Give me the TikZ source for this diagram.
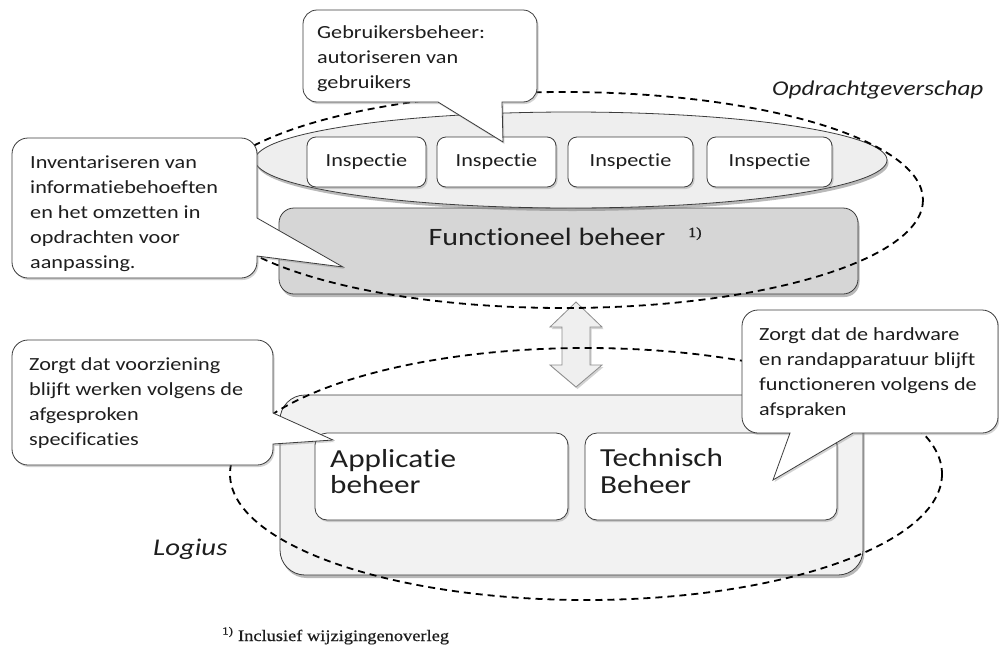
\documentclass[tikz,border=0pt]{standalone}
\usepackage{fontspec}
\setmainfont{Carlito}[FakeStretch=1.2, Ligatures={NoCommon}]
\newfontfamily\serifft{Liberation Serif}[FakeStretch=1.15, FakeBold=0.6]
\usetikzlibrary{shadows}
\definecolor{bordr}{HTML}{3C3C3C}
\definecolor{fbgrey}{HTML}{D6D6D6}
\definecolor{lggrey}{HTML}{F2F2F2}
\definecolor{ellgrey}{HTML}{EEEEEE}
\definecolor{arrgrey}{HTML}{EFEFEF}
\definecolor{txt}{HTML}{1E1E1E}
\tikzset{
  shad/.style={drop shadow={shadow xshift=1.5pt, shadow yshift=-2pt, opacity=0.35}},
  bigshad/.style={drop shadow={shadow xshift=1.5pt, shadow yshift=-3pt, opacity=0.55}},
  callout/.style={fill=white, draw=bordr, line width=0.8pt, shad},
  whitebox/.style={draw=bordr, fill=white, line width=0.8pt, inner sep=0pt, shad},
  bigbox/.style={draw=bordr, line width=0.8pt, inner sep=0pt, bigshad},
  ctext/.style={font=\fontsize{18.5}{25}\selectfont, anchor=base west, inner sep=0pt, text=txt},
  btext/.style={font=\fontsize{26}{30}\selectfont, anchor=base west, inner sep=0pt, text=txt},
  itext/.style={font=\fontsize{18.5}{22}\selectfont, text=txt},
  dashell/.style={draw=black, line width=1.8pt, dash pattern=on 7pt off 5pt},
}
\begin{document}
\begin{tikzpicture}[x=1pt,y=-1pt]
\useasboundingbox[fill=white] (0,0) rectangle (999,659);

% main boxes
\node[bigbox, fill=lggrey, rounded corners=25pt, minimum width=583pt, minimum height=180pt] (lg) at (571.5,485) {};
\node[bigbox, fill=fbgrey, rounded corners=15pt, minimum width=579pt, minimum height=86pt] (fb) at (568.5,251) {};

% inner ellipse with Inspectie boxes
\path[fill=ellgrey, draw=bordr, line width=0.8pt, bigshad] (571,160) ellipse [x radius=316, y radius=48];
\node[whitebox, rounded corners=9pt, minimum width=119pt, minimum height=50pt, itext] (i1) at (366.5,162) {Inspectie};
\node[whitebox, rounded corners=9pt, minimum width=119pt, minimum height=50pt, itext] (i2) at (496.5,162) {Inspectie};
\node[whitebox, rounded corners=9pt, minimum width=125pt, minimum height=50pt, itext] (i3) at (630.5,162) {Inspectie};
\node[whitebox, rounded corners=9pt, minimum width=125pt, minimum height=50pt, itext] (i4) at (769.5,162) {Inspectie};

% functioneel beheer text
\node[font=\fontsize{25}{30}\selectfont, anchor=base, inner sep=0pt, text=txt] (fbt) at (547,245) {Functioneel beheer};
\node[font=\serifft\fontsize{14}{16}\selectfont, anchor=base west, inner sep=0pt, text=txt] (fbn) at (688,237) {1)};

% applicatie / technisch
\node[whitebox, rounded corners=12pt, minimum width=253pt, minimum height=87pt] (ab) at (441.5,476.5) {};
\node[whitebox, rounded corners=12pt, minimum width=252pt, minimum height=87pt] (tb) at (711,476.5) {};
\node[btext] (ab1) at (330,467) {Applicatie};
\node[btext] (ab2) at (330,493) {beheer};
\node[btext] (tb1) at (600,466) {Technisch};
\node[btext] (tb2) at (600,493) {Beheer};

% double arrow between functioneel beheer and logius
\path[fill=arrgrey, draw=black!45, line width=0.8pt, shad]
  (576,302) -- (602,327) -- (590,327) -- (590,365) -- (602,365) -- (576,387)
  -- (550,365) -- (562,365) -- (562,327) -- (550,327) -- cycle;

% dashed ellipses
\draw[dashell] (564,200) ellipse [x radius=359, y radius=108];
\draw[dashell] (586,474) ellipse [x radius=356, y radius=126];

% callouts
\path[callout] (317,10) -- (523,10) .. controls (530.7,10) and (537,16.3) .. (537,24) -- (537,88) .. controls (537,95.7) and (530.7,102) .. (523,102) -- (502,102) -- (503,142) -- (438,102) -- (317,102) .. controls (309.3,102) and (303,95.7) .. (303,88) -- (303,24) .. controls (303,16.3) and (309.3,10) .. (317,10) -- cycle;
\path[callout] (28,138) -- (241,138) .. controls (249.8,138) and (257,145.2) .. (257,154) -- (257,218) -- (343,267) -- (257,256) -- (257,262) .. controls (257,270.8) and (249.8,278) .. (241,278) -- (28,278) .. controls (19.2,278) and (12,270.8) .. (12,262) -- (12,154) .. controls (12,145.2) and (19.2,138) .. (28,138) -- cycle;
\path[callout] (28,340) -- (257,340) .. controls (265.8,340) and (273,347.2) .. (273,356) -- (273,413) -- (333,440) -- (273,444) -- (273,449) .. controls (273,457.8) and (265.8,465) .. (257,465) -- (28,465) .. controls (19.2,465) and (12,457.8) .. (12,449) -- (12,356) .. controls (12,347.2) and (19.2,340) .. (28,340) -- cycle;
\path[callout] (758,310) -- (982,310) .. controls (990.8,310) and (998,317.2) .. (998,326) -- (998,417) .. controls (998,425.8) and (990.8,433) .. (982,433) -- (853,433) -- (773,480) -- (790,433) -- (758,433) .. controls (749.2,433) and (742,425.8) .. (742,417) -- (742,326) .. controls (742,317.2) and (749.2,310) .. (758,310) -- cycle;

% callout texts
\node[ctext] (c1a) at (317,38) {Gebruikersbeheer:};
\node[ctext] (c1b) at (317,63) {autoriseren van};
\node[ctext] (c1c) at (317,88) {gebruikers};

\node[ctext] (c2a) at (30,168) {Inventariseren van};
\node[ctext] (c2b) at (30,193) {informatiebehoeften};
\node[ctext] (c2c) at (30,218) {en het omzetten in};
\node[ctext] (c2d) at (30,243) {opdrachten voor};
\node[ctext] (c2e) at (30,268) {aanpassing.};

\node[ctext] (c3a) at (29,370) {Zorgt dat voorziening};
\node[ctext] (c3b) at (29,395) {blijft werken volgens de};
\node[ctext] (c3c) at (29,420) {afgesproken};
\node[ctext] (c3d) at (29,445) {specificaties};

\node[ctext] (c4a) at (759,340) {Zorgt dat de hardware};
\node[ctext] (c4b) at (759,365) {en randapparatuur blijft};
\node[ctext] (c4c) at (759,390) {functioneren volgens de};
\node[ctext] (c4d) at (759,415) {afspraken};

% labels
\node[font=\itshape\fontsize{21}{25}\selectfont, anchor=base west, inner sep=0pt, text=txt] (opd) at (772,95) {Opdrachtgeverschap};
\node[font=\itshape\fontsize{24}{28}\selectfont, anchor=base west, inner sep=0pt, text=txt] (log) at (153,555) {Logius};

% footnote
\node[font=\serifft\fontsize{16}{18}\selectfont, anchor=base west, inner sep=0pt, text=txt] (fn) at (222,641) {\textsuperscript{1)} Inclusief wijzigingenoverleg};
\end{tikzpicture}
\end{document}
